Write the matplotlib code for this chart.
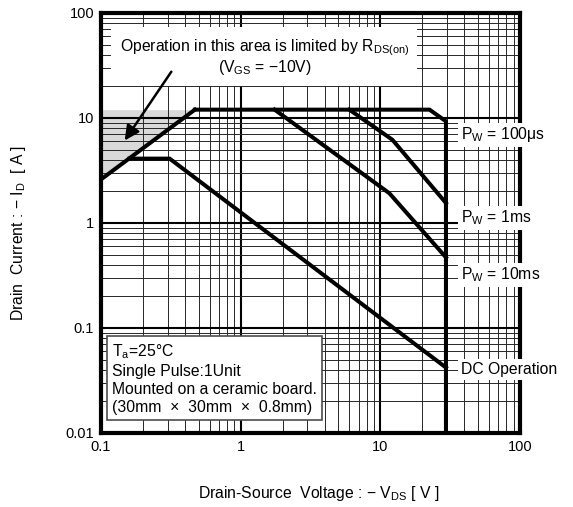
import matplotlib
matplotlib.use('Agg')
import matplotlib.pyplot as plt
from matplotlib.ticker import LogLocator, NullFormatter

plt.rcParams['font.family'] = ['Liberation Sans', 'DejaVu Sans']
plt.rcParams['mathtext.fontset'] = 'custom'
plt.rcParams['mathtext.rm'] = 'Liberation Sans'

# Safe operating area curves
rds_v = [0.1, 0.47]
rds_i = [2.6, 12]
pw100us_v = [0.47, 22.5, 29.5, 29.5]
pw100us_i = [12, 12, 9.3, 0.01]
pw1ms_v = [6.0, 12.2, 29.5]
pw1ms_i = [12, 6.2, 1.55]
pw10ms_v = [1.75, 11.6, 29.5]
pw10ms_i = [12, 1.92, 0.47]
dc_v = [0.16, 0.31, 29.5]
dc_i = [4.1, 4.1, 0.042]

x_ticks = [0.1, 1, 10, 100]
x_tick_labels = ['0.1', '1', '10', '100']
y_ticks = [0.01, 0.1, 1, 10, 100]
y_tick_labels = ['0.01', '0.1', '1', '10', '100']

fs = 11.3

fig = plt.figure(figsize=(5.73, 5.07), dpi=100)
ax = fig.add_axes([0.1763, 0.146, 0.7312, 0.8284])
ax.set_xscale('log')
ax.set_yscale('log')
ax.set_xlim(0.1, 100)
ax.set_ylim(0.01, 100)

ax.set_xticks(x_ticks, x_tick_labels)
ax.set_yticks(y_ticks, y_tick_labels)
ax.xaxis.set_minor_locator(LogLocator(base=10, subs=range(2, 10), numticks=20))
ax.yaxis.set_minor_locator(LogLocator(base=10, subs=range(2, 10), numticks=20))
ax.xaxis.set_minor_formatter(NullFormatter())
ax.yaxis.set_minor_formatter(NullFormatter())
ax.tick_params(which='both', length=0, labelsize=10.5, pad=5)

ax.grid(which='major', color='black', lw=1.5)
ax.grid(which='minor', color='0.15', lw=0.7)
for sp in ax.spines.values():
    sp.set_linewidth(3)

# shaded R_DS(on) limited area
ax.fill_between(rds_v, rds_i, 12, color='#d9d9d9', zorder=0.5, lw=0)

lw = 2.9
for v, i in [(rds_v, rds_i), (pw100us_v, pw100us_i), (pw1ms_v, pw1ms_i),
             (pw10ms_v, pw10ms_i), (dc_v, dc_i)]:
    ax.plot(v, i, color='black', lw=lw, solid_joinstyle='miter', zorder=3)

white = dict(facecolor='white', edgecolor='none', pad=2)
ax.text(38, 6.9, r'P$_\mathregular{W}$ = 100μs', ha='left', va='center', fontsize=fs,
        bbox=white, zorder=6, clip_on=False)
ax.text(38, 1.12, r'P$_\mathregular{W}$ = 1ms', ha='left', va='center', fontsize=fs,
        bbox=white, zorder=6, clip_on=False)
ax.text(38, 0.32, r'P$_\mathregular{W}$ = 10ms', ha='left', va='center', fontsize=fs,
        bbox=white, zorder=6, clip_on=False)
ax.text(38, 0.040, 'DC Operation', ha='left', va='center', fontsize=fs,
        bbox=white, zorder=6, clip_on=False)

ax.text(1.48, 38, 'Operation in this area is limited by R$_\\mathregular{DS(on)}$\n'
        '(V$_\\mathregular{GS}$ = \u221210V)', ha='center', va='center', fontsize=fs,
        multialignment='center', linespacing=1.05,
        bbox=dict(facecolor='white', edgecolor='none', pad=6), zorder=6)
ax.annotate('', xy=(0.144, 5.8), xytext=(0.327, 29),
            arrowprops=dict(arrowstyle='-|>', color='black', lw=1.8, mutation_scale=22),
            zorder=7)

ax.text(0.12, 0.033, 'T$_\\mathregular{a}$=25°C\nSingle Pulse:1Unit\n'
        'Mounted on a ceramic board.\n(30mm  ×  30mm  ×  0.8mm)',
        ha='left', va='center', fontsize=fs, linespacing=1.25,
        bbox=dict(facecolor='white', edgecolor='0.3', lw=1.2, pad=3.5), zorder=6)

ax.set_xlabel('Drain-Source  Voltage : \u2212 V$_\\mathregular{DS}$ [ V ]', fontsize=11.3)
ax.set_ylabel('Drain  Current : \u2212 I$_\\mathregular{D}$  [ A ]', fontsize=11.3)
ax.xaxis.set_label_coords(0.52, -0.121)
ax.yaxis.set_label_coords(-0.174, 0.476)

plt.savefig('out.png', dpi=100)
